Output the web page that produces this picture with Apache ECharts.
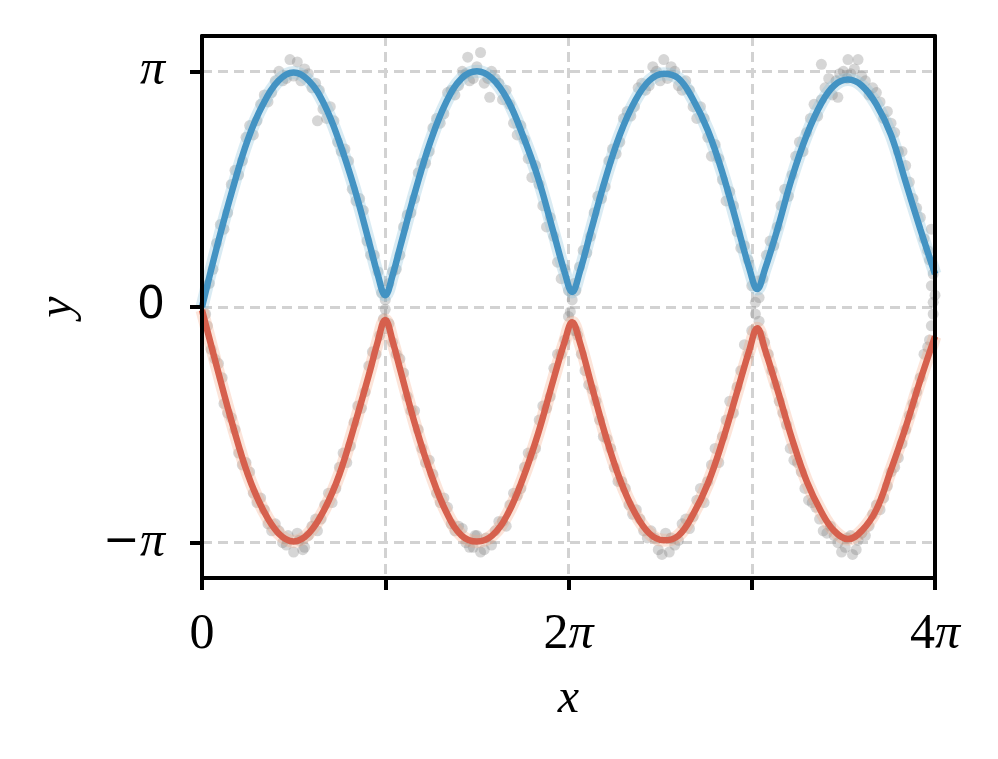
<!DOCTYPE html>
<html>
<head>
<meta charset="utf-8">
<script src="https://cdn.jsdelivr.net/npm/echarts@6/dist/echarts.min.js"></script>
<style>
  html, body { margin: 0; padding: 0; background: #fff; }
  #chart { width: 998px; height: 759px; }
</style>
</head>
<body>
<div id="chart"></div>
<script>
// x and y are in units of pi (axis labels add the π)
const xs = [
  0, 0.083, 0.167, 0.25, 0.333, 0.417, 0.5, 0.583, 0.667, 0.75, 0.833, 0.917, 0.958, 1.0, 1.042,
  1.083, 1.167, 1.25, 1.333, 1.417, 1.5, 1.583, 1.667, 1.75, 1.833, 1.917, 1.978, 2.02, 2.062,
  2.125, 2.2, 2.28, 2.36, 2.44, 2.52, 2.6, 2.68, 2.76, 2.84, 2.92, 2.988, 3.03, 3.072,
  3.14, 3.22, 3.3, 3.38, 3.45, 3.525, 3.6, 3.68, 3.76, 3.84, 3.92, 4.0
]
const blueMean = [
  0, 0.26, 0.50, 0.71, 0.86, 0.96, 0.995, 0.96, 0.86, 0.70, 0.50, 0.26, 0.14, 0.05, 0.14,
  0.26, 0.50, 0.71, 0.87, 0.97, 1.0, 0.97, 0.88, 0.73, 0.55, 0.32, 0.15, 0.064, 0.15,
  0.33, 0.54, 0.73, 0.87, 0.96, 0.99, 0.97, 0.88, 0.75, 0.57, 0.35, 0.16, 0.076, 0.16,
  0.33, 0.55, 0.73, 0.865, 0.94, 0.965, 0.94, 0.86, 0.73, 0.53, 0.33, 0.14
]
const redMean = [
  -0.013, -0.26, -0.50, -0.71, -0.86, -0.96, -0.995, -0.96, -0.86, -0.71, -0.50, -0.27, -0.15, -0.055, -0.15,
  -0.27, -0.51, -0.71, -0.87, -0.97, -0.995, -0.97, -0.88, -0.73, -0.54, -0.31, -0.15, -0.065, -0.15,
  -0.33, -0.54, -0.73, -0.87, -0.96, -0.99, -0.97, -0.88, -0.75, -0.57, -0.36, -0.18, -0.09, -0.18,
  -0.35, -0.56, -0.74, -0.87, -0.95, -0.985, -0.95, -0.86, -0.69, -0.51, -0.31, -0.125
]
// noisy observations (grey dots)
const blueDots = [
  [0.02,0.09],[0.06,0.16],[0.1,0.35],[0.14,0.4],[0.18,0.58],[0.22,0.62],[0.26,0.77],[0.3,0.79],[0.34,0.9],[0.38,0.91],
  [0.42,1.0],[0.46,0.97],[0.48,1.05],[0.52,1.04],[0.54,0.96],[0.58,0.99],[0.63,0.79],[0.62,0.95],[0.66,0.84],[0.7,0.85],
  [0.74,0.7],[0.78,0.67],[0.82,0.5],[0.86,0.46],[0.9,0.28],[0.94,0.22],[0.98,0.06],
  [1.02,0.1],[1.06,0.16],[1.1,0.34],[1.14,0.4],[1.18,0.57],[1.22,0.61],[1.26,0.76],[1.3,0.78],[1.34,0.91],[1.38,0.9],
  [1.42,1.0],[1.45,1.06],[1.46,0.96],[1.52,1.08],[1.54,0.95],[1.58,1.0],[1.57,0.89],[1.62,0.95],[1.66,0.92],[1.7,0.78],
  [1.74,0.77],[1.78,0.63],[1.82,0.6],[1.86,0.43],[1.9,0.38],[1.94,0.19],[1.98,0.16],[2.02,0.03],
  [2.06,0.17],[2.1,0.23],[2.14,0.4],[2.18,0.46],[2.22,0.62],[2.26,0.65],[2.3,0.8],[2.34,0.81],[2.38,0.93],[2.42,0.92],
  [2.46,1.02],[2.5,0.96],[2.52,1.05],[2.56,1.02],[2.6,0.94],[2.64,0.96],[2.68,0.85],[2.72,0.85],[2.76,0.72],[2.8,0.69],
  [2.84,0.54],[2.88,0.49],[2.92,0.32],[2.96,0.26],[3.0,0.09],[3.04,0.04],
  [3.08,0.22],[3.12,0.26],[3.16,0.43],[3.2,0.47],[3.24,0.64],[3.28,0.66],[3.32,0.8],[3.36,0.81],[3.38,1.03],[3.4,0.93],
  [3.44,0.9],[3.47,0.89],[3.48,0.99],[3.525,1.05],[3.54,0.99],[3.58,1.05],[3.6,0.98],[3.64,0.9],[3.68,0.91],[3.72,0.8],
  [3.76,0.78],[3.8,0.66],[3.84,0.6],[3.88,0.46],[3.92,0.38],[3.96,0.24],[3.98,0.09],[3.99,0.02],
  [0.04,0.1],[0.08,0.27],[0.12,0.33],[0.16,0.52],[0.2,0.56],[0.24,0.72],[0.28,0.73],[0.32,0.86],[0.36,0.87],[0.4,0.96],
  [0.44,0.96],[0.5,0.98],[0.56,1.01],[0.6,0.93],[0.64,0.92],[0.68,0.8],[0.72,0.79],[0.76,0.66],[0.8,0.62],[0.84,0.45],
  [0.88,0.41],[0.92,0.22],[0.96,0.15],[1.0,0.03],
  [1.04,0.15],[1.08,0.22],[1.12,0.39],[1.16,0.46],[1.2,0.61],[1.24,0.66],[1.28,0.8],[1.32,0.82],[1.36,0.92],[1.4,0.94],
  [1.44,0.99],[1.48,0.97],[1.5,1.02],[1.56,0.97],[1.6,0.97],[1.64,0.88],[1.68,0.86],[1.72,0.73],[1.76,0.71],[1.8,0.55],
  [1.84,0.52],[1.88,0.34],[1.92,0.3],[1.96,0.12],[2.0,0.07],[2.03,0.1],
  [2.04,0.07],[2.08,0.24],[2.12,0.3],[2.16,0.47],[2.2,0.51],[2.24,0.67],[2.28,0.7],[2.32,0.83],[2.36,0.85],[2.4,0.95],
  [2.44,0.94],[2.48,1.0],[2.54,0.97],[2.58,1.0],[2.62,0.92],[2.66,0.92],[2.7,0.8],[2.74,0.8],[2.78,0.64],[2.82,0.63],
  [2.86,0.45],[2.9,0.43],[2.94,0.25],[2.98,0.2],[3.02,0.02],[3.03,0.11],
  [3.06,0.12],[3.1,0.28],[3.14,0.34],[3.18,0.5],[3.22,0.56],[3.26,0.7],[3.3,0.74],[3.34,0.86],[3.38,0.88],[3.42,0.97],
  [3.46,0.96],[3.5,1.0],[3.52,0.97],[3.56,1.01],[3.62,0.96],[3.66,0.93],[3.7,0.87],[3.74,0.83],[3.78,0.74],[3.82,0.66],
  [3.86,0.53],[3.9,0.42],[3.94,0.29],[3.97,0.2],[3.98,0.33],[3.99,0.14],[4.0,0.05]
]
const redDots = [
  [0.02,-0.03],[0.05,-0.18],[0.09,-0.24],[0.12,-0.41],[0.16,-0.47],[0.2,-0.62],[0.24,-0.66],[0.28,-0.79],[0.32,-0.81],[0.36,-0.92],
  [0.4,-0.92],[0.44,-1.0],[0.47,-0.97],[0.5,-1.04],[0.53,-0.99],[0.56,-1.02],[0.6,-0.93],[0.63,-0.95],[0.67,-0.84],[0.71,-0.83],
  [0.75,-0.68],[0.79,-0.66],[0.83,-0.49],[0.87,-0.43],[0.91,-0.25],[0.95,-0.2],[0.99,-0.05],
  [1.02,-0.07],[1.06,-0.2],[1.1,-0.28],[1.14,-0.44],[1.18,-0.52],[1.22,-0.66],[1.26,-0.71],[1.3,-0.83],[1.34,-0.85],[1.38,-0.95],
  [1.42,-0.94],[1.46,-1.02],[1.49,-0.97],[1.52,-1.04],[1.55,-0.98],[1.58,-1.01],[1.62,-0.91],[1.66,-0.93],[1.7,-0.79],[1.74,-0.77],
  [1.78,-0.62],[1.82,-0.6],[1.86,-0.42],[1.9,-0.38],[1.94,-0.2],[1.98,-0.14],[2.01,-0.02],
  [2.05,-0.12],[2.09,-0.27],[2.13,-0.35],[2.17,-0.48],[2.21,-0.56],[2.25,-0.68],[2.29,-0.74],[2.33,-0.84],[2.37,-0.86],[2.41,-0.95],
  [2.45,-0.95],[2.49,-1.03],[2.53,-0.96],[2.55,-1.04],[2.58,-1.01],[2.62,-0.92],[2.66,-0.94],[2.7,-0.82],[2.74,-0.83],[2.78,-0.67],
  [2.82,-0.66],[2.86,-0.48],[2.9,-0.45],[2.94,-0.27],[2.98,-0.2],[3.02,-0.03],[3.05,-0.12],
  [3.09,-0.2],[3.13,-0.33],[3.17,-0.45],[3.21,-0.6],[3.25,-0.66],[3.29,-0.77],[3.33,-0.83],[3.37,-0.9],[3.41,-0.96],[3.45,-0.97],
  [3.49,-1.04],[3.52,-0.98],[3.55,-1.05],[3.58,-0.99],[3.62,-0.97],[3.66,-0.88],[3.7,-0.86],[3.74,-0.76],[3.78,-0.68],[3.82,-0.58],
  [3.86,-0.46],[3.9,-0.36],[3.94,-0.2],[3.97,-0.14],[3.99,-0.03],
  [0.03,-0.08],[0.07,-0.22],[0.11,-0.3],[0.14,-0.45],[0.18,-0.52],[0.22,-0.67],[0.26,-0.7],[0.3,-0.83],[0.34,-0.86],[0.38,-0.95],
  [0.42,-0.95],[0.46,-1.01],[0.52,-0.96],[0.55,-1.03],[0.58,-0.97],[0.62,-0.9],[0.65,-0.9],[0.69,-0.79],[0.73,-0.77],[0.77,-0.62],
  [0.81,-0.59],[0.85,-0.42],[0.89,-0.36],[0.93,-0.19],[0.97,-0.12],[1.0,-0.01],
  [1.04,-0.15],[1.08,-0.22],[1.12,-0.38],[1.16,-0.44],[1.2,-0.6],[1.24,-0.65],[1.28,-0.79],[1.32,-0.81],[1.36,-0.92],[1.4,-0.93],
  [1.44,-1.0],[1.48,-1.02],[1.5,-0.97],[1.54,-1.03],[1.6,-0.95],[1.64,-0.91],[1.68,-0.84],[1.72,-0.8],[1.76,-0.68],[1.8,-0.63],
  [1.84,-0.48],[1.88,-0.43],[1.92,-0.26],[1.96,-0.2],[2.0,-0.04],[2.03,-0.1],
  [2.04,-0.1],[2.07,-0.2],[2.11,-0.33],[2.15,-0.4],[2.19,-0.55],[2.23,-0.6],[2.27,-0.74],[2.31,-0.77],[2.35,-0.88],[2.39,-0.9],
  [2.43,-0.98],[2.47,-0.98],[2.51,-1.05],[2.56,-0.98],[2.6,-0.99],[2.64,-0.9],[2.68,-0.89],[2.72,-0.77],[2.76,-0.74],[2.8,-0.6],
  [2.84,-0.55],[2.88,-0.4],[2.92,-0.34],[2.96,-0.16],[3.0,-0.1],[3.04,-0.06],
  [3.07,-0.15],[3.11,-0.27],[3.15,-0.4],[3.19,-0.5],[3.23,-0.65],[3.27,-0.7],[3.31,-0.82],[3.35,-0.85],[3.39,-0.95],[3.43,-0.93],
  [3.47,-1.0],[3.51,-1.02],[3.54,-0.97],[3.57,-1.03],[3.6,-0.96],[3.64,-0.93],[3.68,-0.84],[3.72,-0.81],[3.76,-0.7],[3.8,-0.64],
  [3.84,-0.52],[3.88,-0.41],[3.92,-0.3],[3.96,-0.17],[3.98,-0.08]
]
const xTickValues = [0, 1, 2, 3, 4]
const xTickText = ['0', '', '2', '', '4']
const yTickValues = [-1, 0, 1]
const yTickText = ['{m|−}{p|π}', '{z|0}', '{p|π}']

const serif = '"Liberation Serif", "DejaVu Serif", serif'
const sans = '"DejaVu Sans", sans-serif'
const pair = (a, b) => a.map((v, i) => [v, b[i]])
const spine = { color: '#000', width: 4 }
const dash = { color: '#d2d2d2', width: 3, type: [10, 6] }

const chart = echarts.init(document.getElementById('chart'), null, { renderer: 'canvas' })
chart.setOption({
  animation: false,
  backgroundColor: '#fff',
  grid: { left: 202, right: 63, top: 36, bottom: 181 },
  xAxis: [
    // grid lines only
    {
      type: 'value', min: 0, max: 4, interval: 1, z: 0,
      axisLine: { show: false }, axisTick: { show: false }, axisLabel: { show: false },
      splitLine: { show: true, lineStyle: dash }
    },
    // bottom spine with ticks and labels
    {
      type: 'value', min: 0, max: 4, interval: 1, position: 'bottom', z: 10,
      name: 'x', nameLocation: 'middle', nameGap: 97,
      nameTextStyle: { fontFamily: serif, fontStyle: 'italic', fontSize: 48, color: '#000' },
      axisLine: { show: true, onZero: false, lineStyle: spine },
      axisTick: { show: true, length: 12, lineStyle: spine },
      axisLabel: {
        margin: 32,
        formatter: v => {
          const t = xTickText[xTickValues.indexOf(v)]
          if (!t) return ''
          return t === '0' ? '{n|0}' : '{n|' + t + '}{p|π}'
        },
        rich: {
          n: { fontFamily: serif, fontSize: 50, color: '#000' },
          p: { fontFamily: serif, fontStyle: 'italic', fontSize: 50, color: '#000' }
        }
      },
      splitLine: { show: false }
    },
    // top spine
    {
      type: 'value', min: 0, max: 4, position: 'top', z: 10,
      axisLine: { show: true, onZero: false, lineStyle: spine },
      axisTick: { show: false }, axisLabel: { show: false }, splitLine: { show: false }
    }
  ],
  yAxis: [
    {
      type: 'value', min: -1.15, max: 1.15, z: 0,
      axisLine: { show: false }, axisLabel: { show: false },
      axisTick: { show: false, customValues: yTickValues },
      splitLine: { show: true, lineStyle: dash }
    },
    {
      type: 'value', min: -1.15, max: 1.15, position: 'left', z: 10,
      name: 'y', nameLocation: 'middle', nameGap: 120,
      nameTextStyle: { fontFamily: serif, fontStyle: 'italic', fontSize: 48, color: '#000' },
      axisLine: { show: true, onZero: false, lineStyle: spine },
      axisTick: { show: true, length: 12, customValues: yTickValues, lineStyle: spine },
      axisLabel: {
        margin: 37,
        customValues: yTickValues,
        formatter: v => yTickText[yTickValues.indexOf(v)] || '',
        rich: {
          p: { fontFamily: serif, fontStyle: 'italic', fontSize: 50, color: '#000' },
          m: { fontFamily: sans, fontSize: 44, color: '#000' },
          z: { fontFamily: sans, fontSize: 44, color: '#000' }
        }
      },
      splitLine: { show: false }
    },
    {
      type: 'value', min: -1.15, max: 1.15, position: 'right', z: 10,
      axisLine: { show: true, onZero: false, lineStyle: spine },
      axisTick: { show: false }, axisLabel: { show: false }, splitLine: { show: false }
    }
  ],
  series: [
    {
      type: 'scatter', data: blueDots, symbolSize: 11, z: 1, silent: true,
      itemStyle: { color: 'rgba(128,128,128,0.4)' }
    },
    {
      type: 'scatter', data: redDots, symbolSize: 11, z: 1, silent: true,
      itemStyle: { color: 'rgba(128,128,128,0.4)' }
    },
    {
      type: 'line', data: pair(xs, blueMean), smooth: 0.4, showSymbol: false, z: 2,
      lineStyle: { color: 'rgba(146,197,222,0.35)', width: 13 }
    },
    {
      type: 'line', data: pair(xs, redMean), smooth: 0.4, showSymbol: false, z: 2,
      lineStyle: { color: 'rgba(244,165,130,0.3)', width: 13 }
    },
    {
      type: 'line', data: pair(xs, blueMean), smooth: 0.4, showSymbol: false, z: 3,
      lineStyle: { color: '#4393c3', width: 6.5 }
    },
    {
      type: 'line', data: pair(xs, redMean), smooth: 0.4, showSymbol: false, z: 3,
      lineStyle: { color: '#d6604d', width: 6.5 }
    }
  ]
})
</script>
</body>
</html>
